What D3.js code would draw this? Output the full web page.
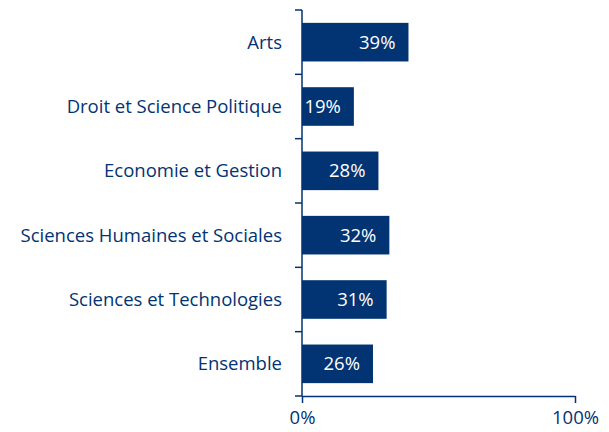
<!DOCTYPE html>
<html>
<head>
<meta charset="utf-8">
<script src="https://cdn.jsdelivr.net/npm/d3@7"></script>
<style>
  body { margin: 0; background: #fff; }
  svg text { font-family: "Open Sans", sans-serif; }
</style>
</head>
<body>
<div id="chart"></div>
<script>
const categories = ["Arts", "Droit et Science Politique", "Economie et Gestion",
    "Sciences Humaines et Sociales", "Sciences et Technologies", "Ensemble"];
const values = [39, 19, 28, 32, 31, 26];
const xTicks = [0, 100];

const navy = "#023373";
const fontSize = "18.5px";
const margin = { top: 10, right: 34, bottom: 36, left: 302 };
const width = 609 - margin.left - margin.right;
const height = 432 - margin.top - margin.bottom;

const svg = d3.select("#chart").append("svg")
    .attr("width", 609)
    .attr("height", 432)
    .append("g")
    .attr("transform", `translate(${margin.left},${margin.top})`);

const x = d3.scaleLinear().domain([0, 100]).range([0, width]);
const y = d3.scaleBand().domain(categories).range([0, height]).paddingInner(0.4).paddingOuter(0.2);

// bars
svg.selectAll(".bar")
    .data(categories)
    .enter().append("rect")
    .attr("class", "bar")
    .attr("x", 0)
    .attr("y", d => y(d))
    .attr("height", y.bandwidth())
    .attr("width", (d, i) => x(values[i]))
    .attr("fill", navy);

// value labels
svg.selectAll(".value-label")
    .data(categories)
    .enter().append("text")
    .attr("class", "value-label")
    .attr("x", (d, i) => x(values[i]) - 13)
    .attr("y", d => y(d) + y.bandwidth() / 2)
    .attr("dy", "0.36em")
    .attr("text-anchor", "end")
    .style("font-size", fontSize)
    .style("fill", "#fff")
    .text((d, i) => values[i] + "%");

// y axis: line with ticks between categories
const step = height / categories.length;
svg.append("line")
    .attr("x1", 0).attr("x2", 0)
    .attr("y1", 0).attr("y2", height)
    .attr("stroke", navy).attr("stroke-width", 1.5);
svg.selectAll(".ytick")
    .data(d3.range(categories.length + 1))
    .enter().append("line")
    .attr("x1", -7).attr("x2", 0)
    .attr("y1", i => i * step).attr("y2", i => i * step)
    .attr("stroke", navy).attr("stroke-width", 1.5);
svg.selectAll(".ylabel")
    .data(categories)
    .enter().append("text")
    .attr("x", -20)
    .attr("y", d => y(d) + y.bandwidth() / 2)
    .attr("dy", "0.36em")
    .attr("text-anchor", "end")
    .style("font-size", fontSize)
    .style("fill", navy)
    .text(d => d);

// x axis
const xAxis = svg.append("g")
    .attr("transform", `translate(0,${height})`)
    .call(d3.axisBottom(x).tickValues(xTicks).tickFormat(d => d + "%").tickSize(7).tickSizeOuter(0).tickPadding(8));
xAxis.select(".domain").attr("stroke", navy).attr("stroke-width", 1.5);
xAxis.selectAll(".tick line").attr("stroke", navy).attr("stroke-width", 1.5);
xAxis.selectAll(".tick text")
    .attr("fill", navy)
    .style("font-size", fontSize)
    .style("font-family", "'Open Sans', sans-serif");
</script>
</body>
</html>
